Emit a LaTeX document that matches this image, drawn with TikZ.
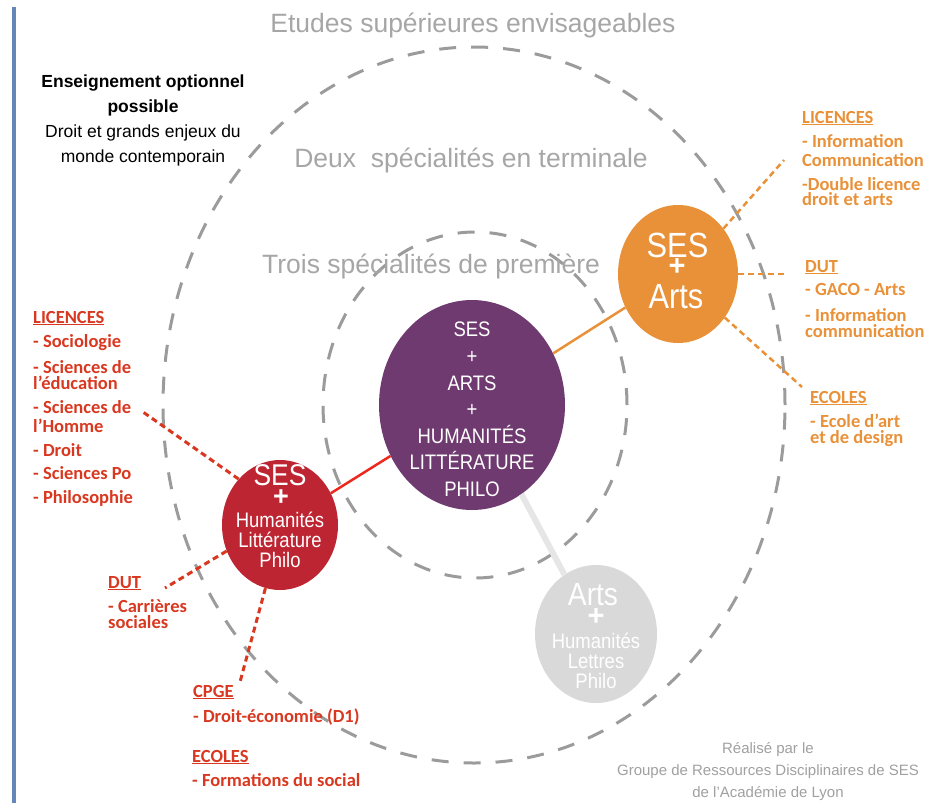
\documentclass[tikz,border=0pt]{standalone}
\usepackage{fontspec}
\setmainfont{Liberation Sans}
\newfontfamily\narrowfont[FakeStretch=0.88]{Liberation Sans}
\newfontfamily\labelfont{Carlito}
\usepackage{xcolor}
\usepackage{tikz}
\usetikzlibrary{
	shapes.geometric,					% Ellipses for the specialities
	positioning							% Relative positioning
}
\definecolor{ses-purple}{RGB}{111, 58, 112}
\definecolor{ses-red}{RGB}{190, 37, 50}
\definecolor{ses-orange}{RGB}{233, 145, 57}
\definecolor{arts-gray}{RGB}{217, 217, 217}
\definecolor{arts-line}{RGB}{230, 230, 230}
\definecolor{list-red}{RGB}{217, 56, 32}
\definecolor{line-red}{RGB}{237, 40, 30}
\definecolor{ring-gray}{RGB}{155, 155, 155}
\definecolor{title-gray}{RGB}{166, 166, 166}
\definecolor{credit-gray}{RGB}{160, 160, 160}
\definecolor{side-blue}{RGB}{100, 135, 185}

\begin{document}
\begin{tikzpicture}[x=1pt, y=-1pt]
		\tikzstyle{ring} = [draw=ring-gray, line width=3pt, dash pattern=on 17pt off 15pt]
		\tikzstyle{spec} = [ellipse, inner sep=0pt]
		\tikzstyle{spectext} = [text=white, inner sep=0pt, align=center, font=\narrowfont\fontsize{21}{20}\selectfont]
		\tikzstyle{redlist} = [anchor=base west, inner sep=0pt, text=list-red, font=\labelfont\bfseries\fontsize{18.5}{18.5}\selectfont]
		\tikzstyle{orangelist} = [redlist, text=ses-orange]
		\tikzstyle{level} = [anchor=base, inner sep=0pt, text=title-gray, font=\fontsize{26.5}{26.5}\selectfont]
		\tikzstyle{reddots} = [draw=list-red, line width=3pt, dash pattern=on 6pt off 4pt]
		\tikzstyle{orangedots} = [draw=ses-orange, line width=2.5pt, dash pattern=on 6pt off 4pt]
		
		\useasboundingbox (0,0) rectangle (936,803);
		\draw[line width=4pt, side-blue] (13.5,7) -- (13.5,803);
		
		% Levels
		%% Dashed rings
		\draw[ring] (474,405) ellipse [x radius=311pt, y radius=358pt];
		\draw[ring] (475,405) ellipse [x radius=152pt, y radius=173pt];
		%% Titles
		\node[level] at (473,32) (superieur) {Etudes supérieures envisageables};
		\node[level] at (471,167) (terminale) {Deux~ spécialités en terminale};
		\node[level] at (431,273) (premiere) {Trois spécialités de première};
		
		% Specialities
		%% Three in first year
		\node[spec, fill=ses-purple, minimum width=186pt, minimum height=210pt] at (472,405) (trio) {};
		\node[spectext, font=\narrowfont\fontsize{21}{26.6}\selectfont] at (472,409.5) (trioText) {SES\\+\\ARTS\\+\\HUMANITÉS\\LITTÉRATURE\\PHILO};
		%% SES + Humanities
		\node[spec, fill=ses-red, minimum width=116pt, minimum height=130pt] at (280,525) (sesHum) {};
		\node[spectext, anchor=base, font=\narrowfont\fontsize{30}{30}\selectfont] at (280,485) (sesHumTop) {SES};
		\node[spectext, font=\bfseries\fontsize{27}{27}\selectfont] at (281,498) (sesHumPlus) {+};
		\node[spectext] at (280,539.4) (sesHumText) {Humanités\\Littérature\\Philo};
		%% SES + Arts
		\node[spec, fill=ses-orange, minimum width=120pt, minimum height=138pt] at (678,274) (sesArts) {};
		\node[spectext, anchor=base, font=\narrowfont\fontsize{35}{35}\selectfont] at (677.5,257) (sesArtsTop) {SES};
		\node[spectext, font=\bfseries\fontsize{29}{29}\selectfont] at (677,267) (sesArtsPlus) {+};
		\node[spectext, anchor=base, font=\narrowfont\fontsize{35}{35}\selectfont] at (676,308) (sesArtsBottom) {Arts};
		%% Arts + Humanities
		\node[spec, fill=arts-gray, minimum width=122pt, minimum height=138pt] at (596,634) (artsHum) {};
		\node[spectext, anchor=base, font=\narrowfont\fontsize{32}{32}\selectfont] at (593,605) (artsHumTop) {Arts};
		\node[spectext, font=\bfseries\fontsize{29}{29}\selectfont] at (596,617) (artsHumPlus) {+};
		\node[spectext] at (596,660.4) (artsHumText) {Humanités\\Lettres\\Philo};
		
		% Links between the specialities
		\draw[line width=2.5pt, line-red] (sesHum) -- (trio);
		\draw[line width=2.5pt, ses-orange] (sesArts) -- (trio);
		\draw[line width=6pt, arts-line] (trio.-61) -- (artsHum.118);
		
		% Optional teaching
		\node[align=center, inner sep=0pt, font=\fontsize{17.5}{25}\selectfont] at (143,120) (option) {\textbf{Enseignement optionnel}\\\textbf{possible}\\Droit et grands enjeux du\\monde contemporain};
		
		% Studies after SES + Humanities
		%% Licences
		\node[redlist] at (33,323) (redLicHead) {\underline{LICENCES}};
		\foreach \row/\ybase/\txt in {1/347/{- Sociologie}, 2/373/{- Sciences de}, 3/389/{l’éducation}, 4/413/{- Sciences de}, 5/432/{l’Homme}, 6/456/{- Droit}, 7/479/{- Sciences Po}, 8/503/{- Philosophie}}{
			\node[redlist] at (33,\ybase) (redLic\row) {\txt};
		}
		%% DUT
		\node[redlist] at (108,588) (redDutHead) {\underline{DUT}};
		\foreach \row/\ybase/\txt in {1/612/{- Carrières}, 2/628/{sociales}}{
			\node[redlist] at (108,\ybase) (redDut\row) {\txt};
		}
		%% CPGE and schools
		\node[redlist] at (193,697) (redPrepHead) {\underline{CPGE}};
		\node[redlist] at (193,722) (redPrep1) {- Droit-économie (D1)};
		\node[redlist] at (192,762) (redSchoolHead) {\underline{ECOLES}};
		\node[redlist] at (192,786) (redSchool1) {- Formations du social};
		%% Dotted links
		\coordinate (redLicEnd) at (143,412);
		\coordinate (redDutEnd) at (165,588);
		\coordinate (redPrepEnd) at (240,682);
		\draw[reddots] (sesHum.132) -- (redLicEnd);
		\draw[reddots] (sesHum.206) -- (redDutEnd);
		\draw[reddots] (sesHum.257) -- (redPrepEnd);
		
		% Studies after SES + Arts
		%% Licences
		\node[orangelist] at (802,123) (orangeLicHead) {\underline{LICENCES}};
		\foreach \row/\ybase/\txt in {1/147/{- Information}, 2/166/{Communication}, 3/190/{-Double licence}, 4/205/{droit et arts}}{
			\node[orangelist] at (802,\ybase) (orangeLic\row) {\txt};
		}
		%% DUT
		\node[orangelist] at (805,272) (orangeDutHead) {\underline{DUT}};
		\foreach \row/\ybase/\txt in {1/295/{- GACO - Arts}, 2/321/{- Information}, 3/337/{communication}}{
			\node[orangelist] at (805,\ybase) (orangeDut\row) {\txt};
		}
		%% Schools
		\node[orangelist] at (810,403) (orangeSchoolHead) {\underline{ECOLES}};
		\foreach \row/\ybase/\txt in {1/427/{- Ecole d’art}, 2/443/{et de design}}{
			\node[orangelist] at (810,\ybase) (orangeSchool\row) {\txt};
		}
		%% Dotted links
		\coordinate (orangeLicEnd) at (784,160);
		\coordinate (orangeDutEnd) at (787,274);
		\coordinate (orangeSchoolEnd) at (802,387);
		\draw[orangedots] (sesArts.45) -- (orangeLicEnd);
		\draw[orangedots] (sesArts.0) -- (orangeDutEnd);
		\draw[orangedots] (sesArts.-43) -- (orangeSchoolEnd);
		
		% Credits
		\node[align=center, inner sep=0pt, text=credit-gray, font=\fontsize{15}{22}\selectfont] at (768,772) (credit) {Réalisé par le\\Groupe de Ressources Disciplinaires de SES\\de l'Académie de Lyon};
	\end{tikzpicture}
\end{document}
